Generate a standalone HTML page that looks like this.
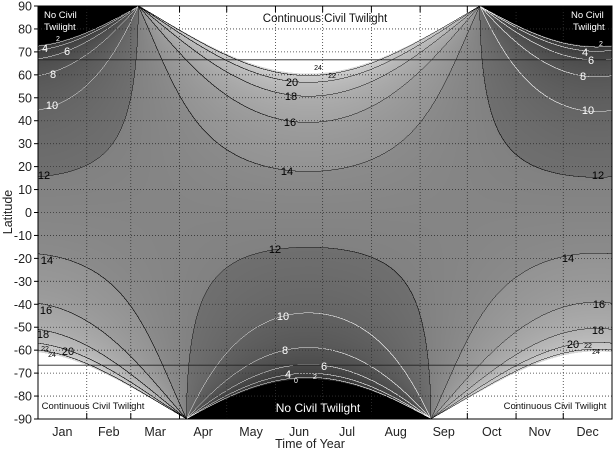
<!DOCTYPE html>
<html><head><meta charset="utf-8">
<style>
html,body{margin:0;padding:0;background:#fff;}
#wrap{position:relative;width:616px;height:450px;overflow:hidden;font-family:"Liberation Sans",sans-serif;}
canvas{position:absolute;left:38px;top:6px;width:574px;height:413px;}
svg{position:absolute;left:0;top:0;}
</style></head><body>
<div id="wrap">
<canvas id="c" width="1148" height="826"></canvas>
<svg id="s" width="616" height="450" xmlns="http://www.w3.org/2000/svg"></svg>
</div>
<script>
const X0=38,X1=612,Y0=6,Y1=419,W=X1-X0,H=Y1-Y0;
const dpd=W/365;
function decl(day){const g=2*Math.PI*day/365;
return 0.006918-0.399912*Math.cos(g)+0.070257*Math.sin(g)-0.006758*Math.cos(2*g)+0.000907*Math.sin(2*g)-0.002697*Math.cos(3*g)+0.00148*Math.sin(3*g);}
const s6=Math.sin(-6*Math.PI/180);
function dl(lat,d){const p=lat*Math.PI/180;const cp=Math.max(Math.cos(p),1e-9);
let c=(s6-Math.sin(p)*Math.sin(d))/(cp*Math.cos(d));
if(c<=-1)return 24;if(c>=1)return 0;return 2*Math.acos(c)*180/Math.PI/15;}
const bandc=[42,58,68,80,92,106,134,152,168,184,200,216];
function gray(D){if(D<=0)return 0;if(D>=24)return 255;
const b=Math.min(11,Math.floor(D/2));const f=(D-2*b)/2;return bandc[b]-5+10*f;}
const cv=document.getElementById('c'),ctx=cv.getContext('2d');
const CW=cv.width,CH=cv.height;
const img=ctx.createImageData(CW,CH);
const Dm=new Float32Array(CW*CH);
const decs=[];for(let i=0;i<CW;i++){decs.push(decl((i+0.5)/CW*365));}
for(let j=0;j<CH;j++){const lat=90-(j+0.5)/CH*180;
for(let i=0;i<CW;i++){Dm[j*CW+i]=dl(lat,decs[i]);}}
for(let j=0;j<CH;j++)for(let i=0;i<CW;i++){
const k=j*CW+i,D=Dm[k];let g=gray(D);
const b=Math.floor(Math.min(D,23.999)/2);
let line=-1;
if(i+1<CW){const b2=Math.floor(Math.min(Dm[k+1],23.999)/2);if(b2!=b)line=Math.max(b,b2);}
if(j+1<CH){const b2=Math.floor(Math.min(Dm[k+CW],23.999)/2);if(b2!=b)line=Math.max(line,Math.max(b,b2));}
if(line>=0&&D>0.001){g=(line*2>=12)?15:235;}
img.data[k*4]=img.data[k*4+1]=img.data[k*4+2]=g;img.data[k*4+3]=255;}
ctx.putImageData(img,0,0);

const S=document.getElementById('s');let h='';
const ly=l=>Y0+(90-l)/180*H;
const mb=[31,59,90,120,151,181,212,243,273,304,334];
for(let l=-80;l<=80;l+=10){const y=ly(l);h+=`<line x1="${X0}" x2="${X1}" y1="${y}" y2="${y}" stroke="#333" stroke-width="0.8" stroke-dasharray="1,2"/>`;}
mb.forEach(d=>{const x=X0+d*dpd;h+=`<line x1="${x}" x2="${x}" y1="${Y0}" y2="${Y1}" stroke="#333" stroke-width="0.8" stroke-dasharray="1,2"/>`;
h+=`<line x1="${x}" x2="${x}" y1="${Y0}" y2="${Y0+6}" stroke="#000"/><line x1="${x}" x2="${x}" y1="${Y1}" y2="${Y1-6}" stroke="#000"/>`;});
[66.56,-66.56].forEach(l=>{const y=ly(l);h+=`<line x1="${X0}" x2="${X1}" y1="${y}" y2="${y}" stroke="#222" stroke-width="0.9"/>`;});
h+=`<rect x="${X0}" y="${Y0}" width="${W}" height="${H}" fill="none" stroke="#000" stroke-width="1"/>`;
for(let l=-90;l<=90;l+=10){const y=ly(l);h+=`<line x1="${X0-4}" x2="${X0}" y1="${y}" y2="${y}" stroke="#000"/><text x="${X0-6}" y="${y+4.5}" font-size="12.5" text-anchor="end" fill="#222">${l}</text>`;}
const mn=['Jan','Feb','Mar','Apr','May','Jun','Jul','Aug','Sep','Oct','Nov','Dec'];
const edges=[0,...mb,365];
mn.forEach((m,i)=>{const x=X0+(edges[i]+edges[i+1])/2*dpd;h+=`<text x="${x}" y="436" font-size="12.5" text-anchor="middle" fill="#222">${m}</text>`;});
h+=`<text x="310" y="448" font-size="12.5" text-anchor="middle" fill="#222">Time of Year</text>`;
h+=`<text transform="translate(12,212) rotate(-90)" font-size="12.5" text-anchor="middle" fill="#222">Latitude</text>`;
function t(x,y,s,fs,c,a){h+=`<text x="${x}" y="${y}" font-size="${fs}" fill="${c}" text-anchor="${a||'middle'}">${s}</text>`;}
t(325,22,'Continuous Civil Twilight',11.5,'#111');
t(44,18,'No Civil',9.5,'#fff','start');t(44,30,'Twilight',9.5,'#fff','start');
t(571,18,'No Civil',9.5,'#fff','start');t(573,30,'Twilight',9.5,'#fff','start');
t(318,412,'No Civil Twilight',12,'#fff');
t(93,409,'Continuous Civil Twilight',9.5,'#111');
t(555,409,'Continuous Civil Twilight',9.5,'#111');
const L=[[44,179,'12',11,'#000'],[47,264,'14',11,'#000'],[46,314,'16',11,'#000'],[43,338,'18',11,'#000'],[68,355,'20',11,'#000'],[45,351,'22',7,'#000'],[52,357,'24',7,'#000'],
[45,52,'4',11,'#fff'],[67,55,'6',11,'#fff'],[53,78,'8',11,'#fff'],[52,109,'10',11,'#fff'],[58,41,'2',7,'#fff'],
[318,70,'24',7,'#000'],[332,78,'22',7,'#000'],[292,86,'20',11,'#000'],[291,100,'18',11,'#000'],[290,126,'16',11,'#000'],[287,175,'14',11,'#000'],
[275,253,'12',11,'#000'],[283,320,'10',11,'#fff'],[285,354,'8',11,'#fff'],[324,370,'6',11,'#fff'],[288,378,'4',11,'#fff'],[315,379,'2',7,'#fff'],[296,383,'0',7,'#fff'],
[598,179,'12',11,'#000'],[568,262,'14',11,'#000'],[599,308,'16',11,'#000'],[598,334,'18',11,'#000'],[573,348,'20',11,'#000'],[588,348,'22',7,'#000'],[596,354,'24',7,'#000'],
[601,46,'2',7,'#fff'],[585,56,'4',11,'#fff'],[591,64,'6',11,'#fff'],[583,80,'8',11,'#fff'],[588,114,'10',11,'#fff']];
L.forEach(a=>t(...a));
S.innerHTML=h;
</script>
</body></html>
